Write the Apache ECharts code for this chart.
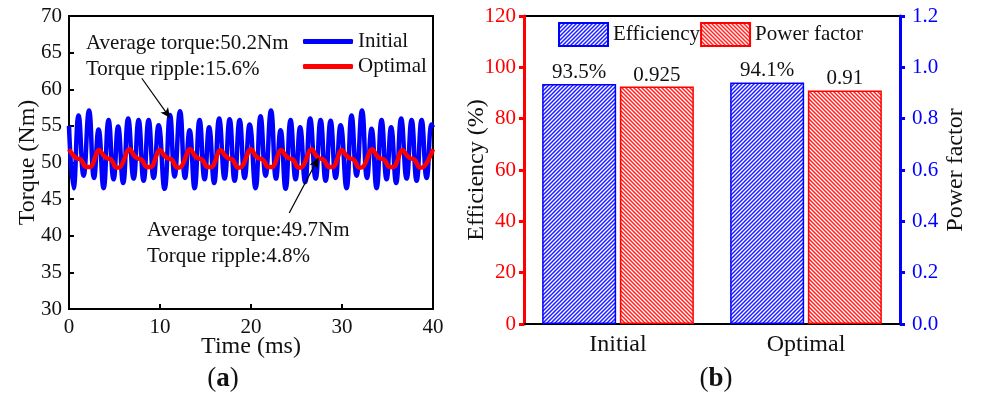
<!DOCTYPE html>
<html>
<head>
<meta charset="utf-8">
<script src="https://cdn.jsdelivr.net/npm/echarts@6/dist/echarts.min.js"></script>
<style>
  html, body { margin: 0; padding: 0; background: #fff; }
  #main { width: 983px; height: 396px; }
</style>
</head>
<body>
<div id="main"></div>
<script>
// (a) torque waveforms (time in ms, torque in Nm)
var initialTime = [0, 0.5, 1.05, 1.6, 2.2, 2.75, 3.25, 3.8, 4.35, 4.9, 5.4, 5.95, 6.5, 7.1, 7.65, 8.2, 8.75, 9.3, 9.85,
    10.5, 11.1, 11.6, 12.2, 12.75, 13.25, 13.8, 14.35, 14.9, 15.4, 15.95, 16.5, 17.1, 17.65, 18.2, 18.75, 19.3, 19.85,
    20.5, 21.05, 21.6, 22.2, 22.75, 23.25, 23.8, 24.35, 24.9, 25.4, 25.95, 26.5, 27.1, 27.65, 28.2, 28.75, 29.3, 29.85,
    30.5, 31.05, 31.6, 32.2, 32.75, 33.25, 33.8, 34.35, 34.9, 35.4, 35.95, 36.5, 37.1, 37.65, 38.2, 38.75, 39.3, 39.85, 40];
var initialTorque = [55.0, 46.5, 56.4, 48.2, 57.1, 47.9, 54.5, 46.5, 55.8, 47.7, 54.9, 47.2, 56.0, 47.8, 55.8, 47.5, 55.8, 47.9, 55.1,
    46.4, 56.5, 48.1, 57.0, 47.9, 54.4, 46.5, 55.8, 47.7, 54.8, 47.2, 56.0, 47.8, 55.9, 47.5, 55.8, 47.9, 55.2,
    46.5, 56.3, 48.2, 57.1, 47.8, 54.4, 46.4, 55.8, 47.7, 54.8, 47.3, 56.0, 47.8, 55.8, 47.5, 55.7, 47.9, 55.1,
    46.5, 56.4, 48.2, 57.1, 47.9, 54.6, 46.5, 55.8, 47.7, 54.8, 47.2, 56.0, 47.8, 55.8, 47.5, 55.8, 47.9, 55.2, 54.8];

var optimalTime = [0, 0.45, 0.8, 1.3, 1.9, 2.3,
    3.33, 3.78, 4.13, 4.63, 5.23, 5.63,
    6.67, 7.12, 7.47, 7.97, 8.57, 8.97,
    10, 10.45, 10.8, 11.3, 11.9, 12.3,
    13.33, 13.78, 14.13, 14.63, 15.23, 15.63,
    16.67, 17.12, 17.47, 17.97, 18.57, 18.97,
    20, 20.45, 20.8, 21.3, 21.9, 22.3,
    23.33, 23.78, 24.13, 24.63, 25.23, 25.63,
    26.67, 27.12, 27.47, 27.97, 28.57, 28.97,
    30, 30.45, 30.8, 31.3, 31.9, 32.3,
    33.33, 33.78, 34.13, 34.63, 35.23, 35.63,
    36.67, 37.12, 37.47, 37.97, 38.57, 38.97, 40];
var optimalTorque = [51.8, 51.0, 50.6, 50.4, 49.4, 49.4,
    51.7, 51.0, 50.6, 50.4, 49.3, 49.4,
    51.8, 51.0, 50.6, 50.4, 49.4, 49.4,
    51.7, 51.0, 50.6, 50.4, 49.3, 49.4,
    51.8, 51.0, 50.6, 50.4, 49.4, 49.4,
    51.7, 51.0, 50.6, 50.4, 49.3, 49.4,
    51.8, 51.0, 50.6, 50.4, 49.4, 49.4,
    51.7, 51.0, 50.6, 50.4, 49.3, 49.4,
    51.8, 51.0, 50.6, 50.4, 49.4, 49.4,
    51.7, 51.0, 50.6, 50.4, 49.3, 49.4,
    51.8, 51.0, 50.6, 50.4, 49.4, 49.4,
    51.7, 51.0, 50.6, 50.4, 49.3, 49.4, 51.8];

// (b) efficiency and power factor
var designs = ['Initial', 'Optimal'];
var efficiency = [93.5, 94.1];
var powerFactor = [0.925, 0.91];

var FONT = '"Liberation Serif", "Times New Roman", serif';

function pairs(xs, ys) {
    var out = [];
    for (var i = 0; i < xs.length; i++) out.push([xs[i], ys[i]]);
    return out;
}

// diagonal hatch fill
function hatch(color, back) {
    var s = 4, c = document.createElement('canvas');
    c.width = c.height = s;
    var g = c.getContext('2d');
    g.fillStyle = color;
    g.fillRect(0, 0, s, s);
    g.strokeStyle = '#ffffff';
    g.lineWidth = 1.3;
    g.beginPath();
    if (!back) {
        g.moveTo(-1, s + 1); g.lineTo(s + 1, -1);
        g.moveTo(-1, 1); g.lineTo(1, -1);
        g.moveTo(s - 1, s + 1); g.lineTo(s + 1, s - 1);
    } else {
        g.moveTo(-1, -1); g.lineTo(s + 1, s + 1);
        g.moveTo(s - 1, -1); g.lineTo(s + 1, 1);
        g.moveTo(-1, s - 1); g.lineTo(1, s + 1);
    }
    g.stroke();
    return {image: c, repeat: 'repeat'};
}

var myChart = echarts.init(document.getElementById('main'));
var option = {
    backgroundColor: '#fff',
    animation: false,
    textStyle: {fontFamily: FONT},
    grid: [
        {left: 69, top: 16, width: 364, height: 293, show: true, borderColor: '#000', borderWidth: 2},
        {left: 524, top: 16, width: 376, height: 308, show: true, borderColor: '#000', borderWidth: 2}
    ],
    legend: [
        {
            data: ['Initial', 'Optimal'],
            orient: 'vertical',
            left: 303, top: 31, padding: 0,
            itemWidth: 50, itemHeight: 5, itemGap: 4,
            icon: 'roundRect',
            textStyle: {fontFamily: FONT, fontSize: 21, color: '#111'}
        },
        {
            data: ['Efficiency', 'Power factor'],
            left: 558, top: 22, padding: 0,
            itemWidth: 49, itemHeight: 23, itemGap: 0,
            icon: 'rect',
            textStyle: {fontFamily: FONT, fontSize: 21, color: '#111'}
        }
    ],
    xAxis: [
        {
            type: 'value', gridIndex: 0, min: 0, max: 40, interval: 10,
            name: 'Time (ms)', nameLocation: 'middle', nameGap: 26, nameMoveOverlap: false,
            nameTextStyle: {fontFamily: FONT, fontSize: 24, color: '#111'},
            axisLine: {lineStyle: {color: '#000', width: 2}},
            axisTick: {inside: true, length: 5, lineStyle: {width: 2}},
            axisLabel: {fontFamily: FONT, fontSize: 21, color: '#111', margin: 8},
            splitLine: {show: false}
        },
        {
            type: 'category', gridIndex: 1, data: designs,
            axisLine: {lineStyle: {color: '#000', width: 2}},
            axisTick: {alignWithLabel: true, length: 6, lineStyle: {width: 2}},
            axisLabel: {fontFamily: FONT, fontSize: 24, color: '#111', margin: 9}
        }
    ],
    yAxis: [
        {
            type: 'value', gridIndex: 0, min: 30, max: 70, interval: 5,
            name: 'Torque (Nm)', nameLocation: 'middle', nameGap: 29, nameMoveOverlap: false,
            nameTextStyle: {fontFamily: FONT, fontSize: 24, color: '#111'},
            axisLine: {show: true, lineStyle: {color: '#000', width: 2}},
            axisTick: {show: true, inside: true, length: 5, lineStyle: {width: 2}},
            axisLabel: {fontFamily: FONT, fontSize: 21, color: '#111', margin: 7},
            splitLine: {show: false}
        },
        {
            type: 'value', gridIndex: 1, min: 0, max: 120, interval: 20, position: 'left',
            name: 'Efficiency (%)', nameLocation: 'middle', nameGap: 35, nameMoveOverlap: false,
            nameTextStyle: {fontFamily: FONT, fontSize: 24, color: '#111'},
            axisLine: {show: true, lineStyle: {color: '#ff0000', width: 3}},
            axisTick: {show: true, length: 5, lineStyle: {width: 3}},
            axisLabel: {fontFamily: FONT, fontSize: 21, color: '#ff0000', margin: 8},
            splitLine: {show: false}
        },
        {
            type: 'value', gridIndex: 1, min: 0, max: 1.2, interval: 0.2, position: 'right',
            name: 'Power factor', nameLocation: 'middle', nameGap: 44, nameMoveOverlap: false,
            nameTextStyle: {fontFamily: FONT, fontSize: 24, color: '#111'},
            axisLine: {show: true, lineStyle: {color: '#0000ff', width: 3}},
            axisTick: {show: true, length: 5, lineStyle: {width: 3}},
            axisLabel: {fontFamily: FONT, fontSize: 21, color: '#0000ff', margin: 12,
                formatter: function (v) { return v.toFixed(1); }},
            splitLine: {show: false}
        }
    ],
    series: [
        {
            name: 'Initial', type: 'line', xAxisIndex: 0, yAxisIndex: 0,
            data: pairs(initialTime, initialTorque),
            smooth: 0.5, showSymbol: false, symbol: 'none',
            itemStyle: {color: '#0000ff'},
            lineStyle: {color: '#0000ff', width: 4.5}
        },
        {
            name: 'Optimal', type: 'line', xAxisIndex: 0, yAxisIndex: 0,
            data: pairs(optimalTime, optimalTorque),
            smooth: 0.4, showSymbol: false, symbol: 'none',
            itemStyle: {color: '#ff0000'},
            lineStyle: {color: '#ff0000', width: 4.5},
            markLine: {
                silent: true,
                symbol: ['none', 'arrow'],
                symbolSize: [7, 10],
                label: {show: false},
                lineStyle: {color: '#000', width: 1.2, type: 'solid'},
                data: [
                    [{coord: [8.0, 61.5]}, {coord: [11.1, 56.1]}],
                    [{coord: [24.2, 43.1]}, {coord: [27.4, 50.6]}]
                ]
            }
        },
        {
            name: 'Efficiency', type: 'bar', xAxisIndex: 1, yAxisIndex: 1,
            data: efficiency,
            barWidth: 74, barGap: '5%',
            itemStyle: {color: hatch('#1f1fff', false), borderColor: '#0000ff', borderWidth: 1.5},
            label: {show: true, position: 'top', distance: 1, formatter: '{c}%',
                fontFamily: FONT, fontSize: 21, color: '#111'}
        },
        {
            name: 'Power factor', type: 'bar', xAxisIndex: 1, yAxisIndex: 2,
            data: powerFactor,
            barWidth: 74,
            itemStyle: {color: hatch('#ff2020', true), borderColor: '#ff0000', borderWidth: 1.5},
            label: {show: true, position: 'top', distance: 1, formatter: '{c}',
                fontFamily: FONT, fontSize: 21, color: '#111'}
        }
    ],
    graphic: [
        {type: 'text', left: 86, top: 33, style: {text: 'Average torque:50.2Nm', font: '21px ' + FONT, fill: '#111'}},
        {type: 'text', left: 86, top: 59, style: {text: 'Torque ripple:15.6%', font: '21px ' + FONT, fill: '#111'}},
        {type: 'text', left: 147, top: 220, style: {text: 'Average torque:49.7Nm', font: '21px ' + FONT, fill: '#111'}},
        {type: 'text', left: 147, top: 246, style: {text: 'Torque ripple:4.8%', font: '21px ' + FONT, fill: '#111'}},
        {type: 'text', x: 223, y: 379, style: {
            text: '({b|a})', font: '27px ' + FONT, fill: '#111', align: 'center', verticalAlign: 'middle',
            rich: {b: {fontFamily: FONT, fontSize: 27, fontWeight: 'bold'}}}},
        {type: 'text', x: 716, y: 379, style: {
            text: '({b|b})', font: '27px ' + FONT, fill: '#111', align: 'center', verticalAlign: 'middle',
            rich: {b: {fontFamily: FONT, fontSize: 27, fontWeight: 'bold'}}}}
    ]
};
myChart.setOption(option, true);
</script>
</body>
</html>
